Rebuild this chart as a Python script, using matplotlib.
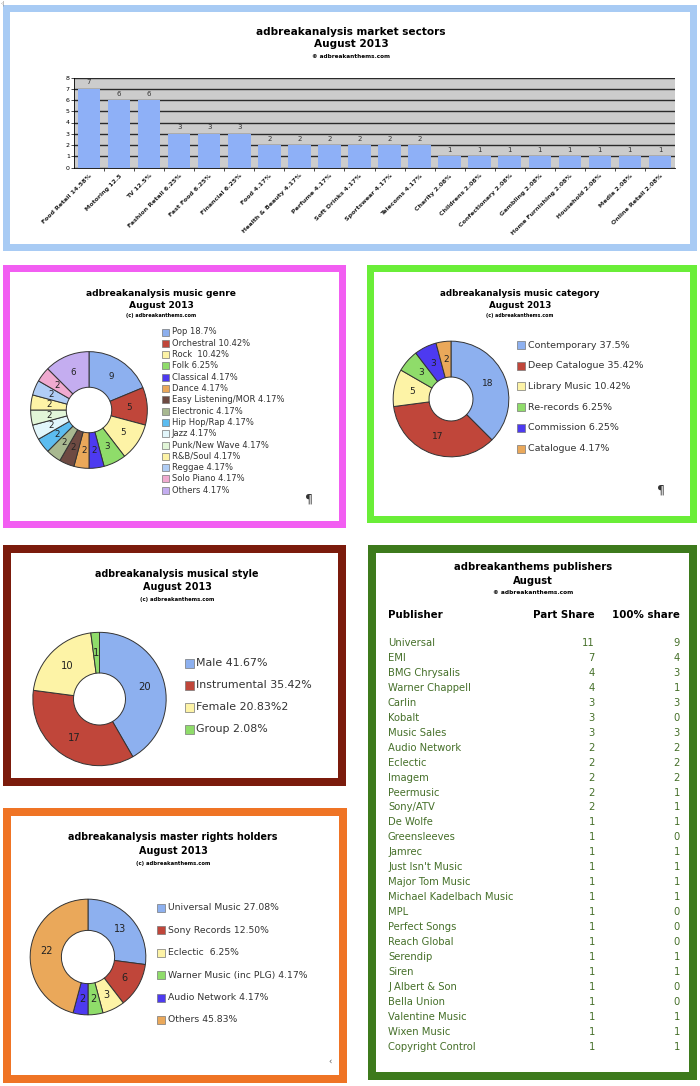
import numpy as np
import matplotlib.pyplot as plt
from matplotlib.patches import Rectangle

W, H = 700, 1086

# market sectors bar chart
sectors = ["Food Retail 14.58%", "Motoring 12.5", "TV 12.5%", "Fashion Retail 6.25%",
           "Fast Food 6.25%", "Financial 6.25%", "Food 4.17%", "Health & Beauty 4.17%",
           "Perfume 4.17%", "Soft Drinks 4.17%", "Sportswear 4.17%", "Telecoms 4.17%",
           "Charity 2.08%", "Childrens 2.08%", "Confectionary 2.08%", "Gambling 2.08%",
           "Home Furnishing 2.08%", "Household 2.08%", "Media 2.08%", "Online Retail 2.08%"]
sector_counts = [7, 6, 6, 3, 3, 3, 2, 2, 2, 2, 2, 2, 1, 1, 1, 1, 1, 1, 1, 1]

# music genre
genre_labels = ["Pop 18.7%", "Orchestral 10.42%", "Rock  10.42%", "Folk 6.25%",
                "Classical 4.17%", "Dance 4.17%", "Easy Listening/MOR 4.17%",
                "Electronic 4.17%", "Hip Hop/Rap 4.17%", "Jazz 4.17%",
                "Punk/New Wave 4.17%", "R&B/Soul 4.17%", "Reggae 4.17%",
                "Solo Piano 4.17%", "Others 4.17%"]
genre_counts = [9, 5, 5, 3, 2, 2, 2, 2, 2, 2, 2, 2, 2, 2, 6]
genre_colors = ['#8db0ef', '#c0463a', '#fdf3a6', '#8fdc6a', '#4d3af0', '#eaa85a',
                '#6e4a42', '#a8b890', '#5cbcf0', '#e2f6fb', '#e2f6d8', '#fdf3a6',
                '#b0cdf5', '#f0aad0', '#c4adf0']

# music category
category_labels = ["Contemporary 37.5%", "Deep Catalogue 35.42%", "Library Music 10.42%",
                   "Re-records 6.25%", "Commission 6.25%", "Catalogue 4.17%"]
category_counts = [18, 17, 5, 3, 3, 2]
six_colors = ['#8db0ef', '#c0463a', '#fdf3a6', '#8fdc6a', '#4d3af0', '#eaa85a']

# musical style
style_labels = ["Male 41.67%", "Instrumental 35.42%", "Female 20.83%2", "Group 2.08%"]
style_counts = [20, 17, 10, 1]

# master rights holders
rights_labels = ["Universal Music 27.08%", "Sony Records 12.50%", "Eclectic  6.25%",
                 "Warner Music (inc PLG) 4.17%", "Audio Network 4.17%", "Others 45.83%"]
rights_counts = [13, 6, 3, 2, 2, 22]

# publishers table
publishers = ["Universal", "EMI", "BMG Chrysalis", "Warner Chappell", "Carlin", "Kobalt",
              "Music Sales", "Audio Network", "Eclectic", "Imagem", "Peermusic", "Sony/ATV",
              "De Wolfe", "Greensleeves", "Jamrec", "Just Isn't Music", "Major Tom Music",
              "Michael Kadelbach Music", "MPL", "Perfect Songs", "Reach Global", "Serendip",
              "Siren", "J Albert & Son", "Bella Union", "Valentine Music", "Wixen Music",
              "Copyright Control"]
part_share = [11, 7, 4, 4, 3, 3, 3, 2, 2, 2, 2, 2] + [1] * 16
full_share = [9, 4, 3, 1, 3, 0, 3, 2, 2, 2, 1, 1, 1, 0, 1, 1, 1, 1, 0, 0, 0, 1, 1, 0, 0, 1, 1, 1]

fig = plt.figure(figsize=(W / 100, H / 100), dpi=100)
bg = fig.add_axes([0, 0, 1, 1])
bg.set_xlim(0, W)
bg.set_ylim(H, 0)
bg.axis('off')


def px_axes(x0, y0, x1, y1):
    return fig.add_axes([x0 / W, 1 - y1 / H, (x1 - x0) / W, (y1 - y0) / H])


def frame(x0, y0, x1, y1, color, lw):
    bg.add_patch(Rectangle((x0, y0), x1 - x0, y1 - y0, facecolor=color, edgecolor='none'))
    bg.add_patch(Rectangle((x0 + lw, y0 + lw), x1 - x0 - 2 * lw, y1 - y0 - 2 * lw,
                           facecolor='white', edgecolor='none'))


def titles(x, ys, lines, size):
    bg.text(x, ys[0], lines[0], fontsize=size, fontweight='bold', ha='center', va='center')
    bg.text(x, ys[1], lines[1], fontsize=size, fontweight='bold', ha='center', va='center')
    bg.text(x, ys[2], lines[2], fontsize=size * 0.55, fontweight='bold', ha='center', va='center')


def donut(cx, cy, r, counts, colors, hole, fs):
    ax = px_axes(cx - r, cy - r, cx + r, cy + r)
    total = sum(counts)
    ax.pie(counts, colors=colors, startangle=90, counterclock=False,
           wedgeprops=dict(width=1 - hole, edgecolor='#333333', linewidth=0.7),
           autopct=lambda p: f'{p * total / 100:.0f}', pctdistance=(1 + hole) / 2,
           textprops=dict(fontsize=fs, color='#222222'))
    ax.set_xlim(-1.02, 1.02)
    ax.set_ylim(-1.02, 1.02)
    return ax


def legend(x, y, dy, labels, colors, size, box):
    for i, (lab, c) in enumerate(zip(labels, colors)):
        yy = y + i * dy
        bg.add_patch(Rectangle((x, yy - box / 2), box, box, facecolor=c,
                               edgecolor='#777777', lw=0.5))
        bg.text(x + box + 2.5, yy, lab, fontsize=size, ha='left', va='center', color='#333333')


# panel frames
frame(3, 5, 697, 251, '#a8cbf4', 7)
frame(3, 265, 346, 528, '#f25ef2', 7)
frame(367, 265, 697, 523, '#6aee38', 7)
frame(3, 545, 346, 786, '#7b1b0c', 8)
frame(3, 808, 347, 1083, '#ef7425', 8)
frame(368, 545, 697, 1080, '#3d7a1c', 8)
bg.text(1, 3, '‹|', fontsize=4, color='#888888', va='center')

# market sectors
titles(351, [32, 44, 56], ["adbreakanalysis market sectors", "August 2013",
                           "© adbreakanthems.com"], 7.6)
ax = px_axes(74, 77.5, 675, 167.5)
x = np.arange(len(sectors))
ax.set_facecolor('#cccccc')
ax.set_axisbelow(True)
ax.yaxis.grid(True, color='#2a2a2a', lw=1.0)
bars = ax.bar(x, sector_counts, width=0.75, color='#8eb0f7', zorder=2)
ax.bar_label(bars, fontsize=5, padding=2.5, color='#333333')
ax.set_ylim(0, 8)
ax.set_xlim(-0.5, len(x) - 0.5)
ax.set_yticks(range(9))
ax.tick_params(axis='y', labelsize=4.5, length=2, width=0.5, pad=1)
ax.set_xticks(x)
ax.set_xticklabels(sectors, rotation=45, ha='right', rotation_mode='anchor',
                   fontsize=4.5, fontweight='bold', color='#222222')
ax.tick_params(axis='x', which='major', length=0, pad=4)
ax.set_xticks(x[:-1] + 0.5, minor=True)
ax.tick_params(axis='x', which='minor', length=2, width=0.5)
for s in ['top', 'right']:
    ax.spines[s].set_visible(False)
for s in ['left', 'bottom']:
    ax.spines[s].set_linewidth(0.6)

# music genre
titles(161, [294, 306, 316], ["adbreakanalysis music genre", "August 2013",
                              "(c) adbreakanthems.com"], 6.6)
donut(89, 410, 59.5, genre_counts, genre_colors, 0.39, 6.3)
legend(162, 332, 11.3, genre_labels, genre_colors, 6.0, 7)
bg.text(309, 499, '¶', fontsize=9, color='#333333', ha='center', va='center')

# music category
titles(520, [294, 306, 316], ["adbreakanalysis music category", "August 2013",
                              "(c) adbreakanthems.com"], 6.3)
donut(451, 399, 59, category_counts, six_colors, 0.38, 6.5)
legend(517, 345, 20.7, category_labels, six_colors, 6.8, 8)
bg.text(661, 490, '¶', fontsize=9, color='#333333', ha='center', va='center')

# musical style
titles(177, [574, 587, 599], ["adbreakanalysis musical style", "August 2013",
                              "(c) adbreakanthems.com"], 6.9)
donut(99.5, 699, 68, style_counts, six_colors[:4], 0.39, 7.2)
legend(185, 663, 22, style_labels, six_colors[:4], 7.9, 9)

# master rights holders
titles(173, [837, 851, 863], ["adbreakanalysis master rights holders", "August 2013",
                              "(c) adbreakanthems.com"], 6.9)
rights_colors = ['#8db0ef', '#c0463a', '#fdf3a6', '#8fdc6a', '#4d3af0', '#eaa85a']
donut(88, 957, 59, rights_counts, rights_colors, 0.46, 7.0)
legend(157, 908, 22.4, rights_labels, rights_colors, 6.7, 8)
bg.text(330, 1062, '‹', fontsize=6, color='#555555', ha='center', va='center')

# publishers table
bg.text(533, 567, "adbreakanthems publishers", fontsize=7.2, fontweight='bold', ha='center', va='center')
bg.text(533, 581, "August", fontsize=7.2, fontweight='bold', ha='center', va='center')
bg.text(533, 593, "© adbreakanthems.com", fontsize=4.2, fontweight='bold', ha='center', va='center')
bg.text(388, 615, "Publisher", fontsize=7.4, fontweight='bold', ha='left', va='center')
bg.text(595, 615, "Part Share", fontsize=7.4, fontweight='bold', ha='right', va='center')
bg.text(680, 615, "100% share", fontsize=7.4, fontweight='bold', ha='right', va='center')
green = '#46702a'
for i, (name, p, f) in enumerate(zip(publishers, part_share, full_share)):
    y = 643 + i * 14.95
    bg.text(388, y, name, fontsize=7.2, color=green, ha='left', va='center')
    bg.text(595, y, str(p), fontsize=7.2, color=green, ha='right', va='center')
    bg.text(680, y, str(f), fontsize=7.2, color=green, ha='right', va='center')

fig.savefig('out.png', dpi=100, facecolor='white')
